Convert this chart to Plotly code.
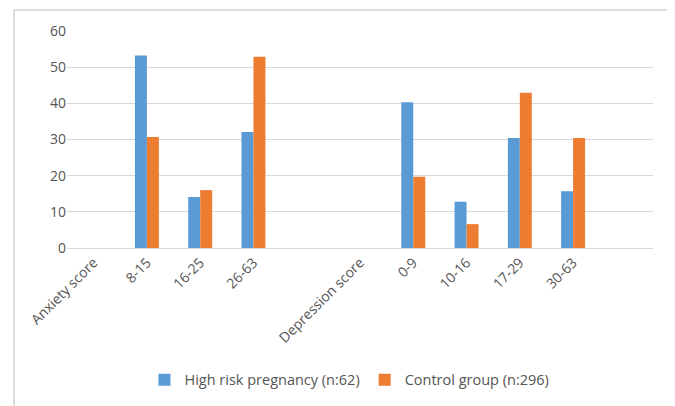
import plotly.graph_objects as go

categories = ["Anxiety score", "8-15", "16-25", "26-63", " ",
              "Depression score", "0-9", "10-16", "17-29", "30-63", "  "]
high_risk = [None, 53.2, 14.1, 32.1, None, None, 40.3, 12.8, 30.4, 15.7, None]
control = [None, 30.7, 16.0, 52.9, None, None, 19.7, 6.6, 42.9, 30.4, None]
y_ticks = [0, 10, 20, 30, 40, 50, 60]

font_family = "Open Sans, Liberation Sans, Arial, sans-serif"
text_color = "#555555"

fig = go.Figure()
fig.add_trace(go.Bar(x=categories, y=high_risk, name="High risk pregnancy (n:62)",
                     marker=dict(color="#5B9BD5", line=dict(width=0))))
fig.add_trace(go.Bar(x=categories, y=control, name="Control group (n:296)",
                     marker=dict(color="#ED7D31", line=dict(width=0))))

border = "#d0d0d0"
fig.update_layout(
    width=675, height=406,
    margin=dict(l=59, r=30, t=23, b=166),
    paper_bgcolor="white", plot_bgcolor="white",
    barmode="group", bargap=0.55, bargroupgap=0,
    font=dict(family=font_family, size=12, color=text_color),
    showlegend=True,
    legend=dict(orientation="h", x=0.482, xanchor="center", yref="container",
                y=0.084, yanchor="middle", font=dict(size=14.5, color=text_color),
                itemwidth=30, tracegroupgap=0),
    xaxis=dict(type="category", categoryorder="array", categoryarray=categories,
               tickangle=-45, showgrid=False, showline=True, linecolor="#d9d9d9",
               ticks="", tickfont=dict(size=14, color=text_color)),
    yaxis=dict(range=[0, 60], tickvals=y_ticks, showgrid=True, gridcolor="#d9d9d9",
               zeroline=False, showline=False, ticks="", ticklen=0,
               tickfont=dict(size=14, color=text_color)),
    shapes=[
        dict(type="line", xref="paper", yref="paper", x0=-0.0904, x1=1.0256,
             y0=1.0968, y1=1.0968, line=dict(color=border, width=1.5), layer="below"),
        dict(type="line", xref="paper", yref="paper", x0=-0.0904, x1=-0.0904,
             y0=-0.85, y1=1.0968, line=dict(color=border, width=1.5), layer="below"),
    ],
)

fig.write_html("out.html")
